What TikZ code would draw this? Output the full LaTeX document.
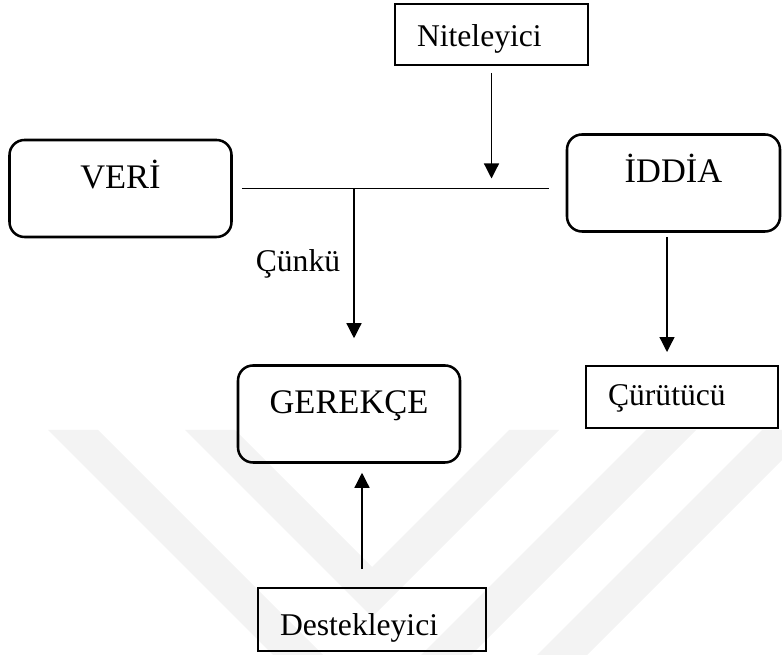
\documentclass[tikz,border=0pt]{standalone}
\usepackage{fontspec}
\setmainfont{Liberation Serif}
\usetikzlibrary{positioning}
\usetikzlibrary{arrows.meta}
\definecolor{filigrana}{HTML}{F3F3F3}

\begin{document}
\begin{tikzpicture}
    % Stili per riquadri e frecce
    \tikzset{
        box round/.style={
            draw,
            line width=1.8pt,
            rounded corners=3.75mm,
            minimum width=5.55cm,
            minimum height=2.425cm,
            inner sep=0pt,
            text height=6mm,
            text depth=6mm,
            font=\fontsize{24.5}{28}\selectfont
        },
        box plain/.style={
            draw,
            line width=1.4pt,
            inner xsep=5.5mm,
            inner ysep=0pt,
            align=left,
            text height=7.5mm,
            text depth=1.5mm,
            font=\fontsize{22.5}{26}\selectfont
        },
        arrow line/.style={
            line width=0.9pt,
            -{Triangle[width=3.75mm,length=3.75mm]}
        }
    }

    \useasboundingbox (0,0) rectangle (19.55,16.375);

    % Filigrana
    \begin{scope}
        \clip (0,0) rectangle (19.55,16.375);
        \fill[filigrana] (4.625,5.625) -- (5.875,5.625) -- (9.3,2.2) -- (12.725,5.625) -- (13.975,5.625) -- (9.3,0.95) -- cycle;
        \fill[filigrana] (1.2,5.625) -- (2.45,5.625) -- (9.3,-1.225) -- (16.15,5.625) -- (17.4,5.625) -- (9.3,-2.475) -- cycle;
        \fill[filigrana] (19.05,5.625) -- (20.3,5.625) -- (14.675,0) -- (13.425,0) -- cycle;
    \end{scope}

    % Nodi
    \node[box round] (veri) at (3.0125,11.6625) {VERİ};
    \node[box round, minimum width=5.325cm] (iddia) at (16.8375,11.8) {İDDİA};
    \node[box round] (gerekce) at (8.725,6.025) {GEREKÇE};

    \node[box plain, text width=3.725cm, minimum height=1.525cm] (niteleyici) at (12.2875,15.5125) {Niteleyici};
    \node[box plain, text width=3.7cm, minimum height=1.55cm, text height=5.9mm] (curutucu) at (17.05,6.45) {Çürütücü};
    \node[box plain, text width=4.6cm, minimum height=1.575cm, text height=9.3mm] (destekleyici) at (9.3,0.8875) {Destekleyici};

    \node[font=\fontsize{22.5}{26}\selectfont, anchor=base] (cunku) at (7.45,9.58) {Çünkü};

    % Collegamenti
    \coordinate (lineaS) at ([xshift=2.25mm]veri.east);
    \coordinate (lineaD) at ([xshift=-4.25mm]iddia.west |- lineaS);
    \coordinate (giunto) at ([xshift=1.25mm]gerekce.north |- lineaS);
    \draw[line width=0.9pt] (lineaS) -- (lineaD);

    \draw[arrow line] ([yshift=-1.75mm]niteleyici.south) -- ([yshift=2.5mm]niteleyici.south |- lineaS);
    \draw[arrow line] (giunto) -- ([yshift=6.5mm]giunto |- gerekce.north);
    \draw[arrow line] ([xshift=-1.625mm,yshift=-1mm]iddia.south) -- ([xshift=-1.625mm,yshift=3.25mm]iddia.south |- curutucu.north);
    \draw[arrow line] ([xshift=-2.5mm,yshift=4.5mm]destekleyici.north) -- ([xshift=-2.5mm,yshift=-2.25mm]destekleyici.north |- gerekce.south);
\end{tikzpicture}
\end{document}
